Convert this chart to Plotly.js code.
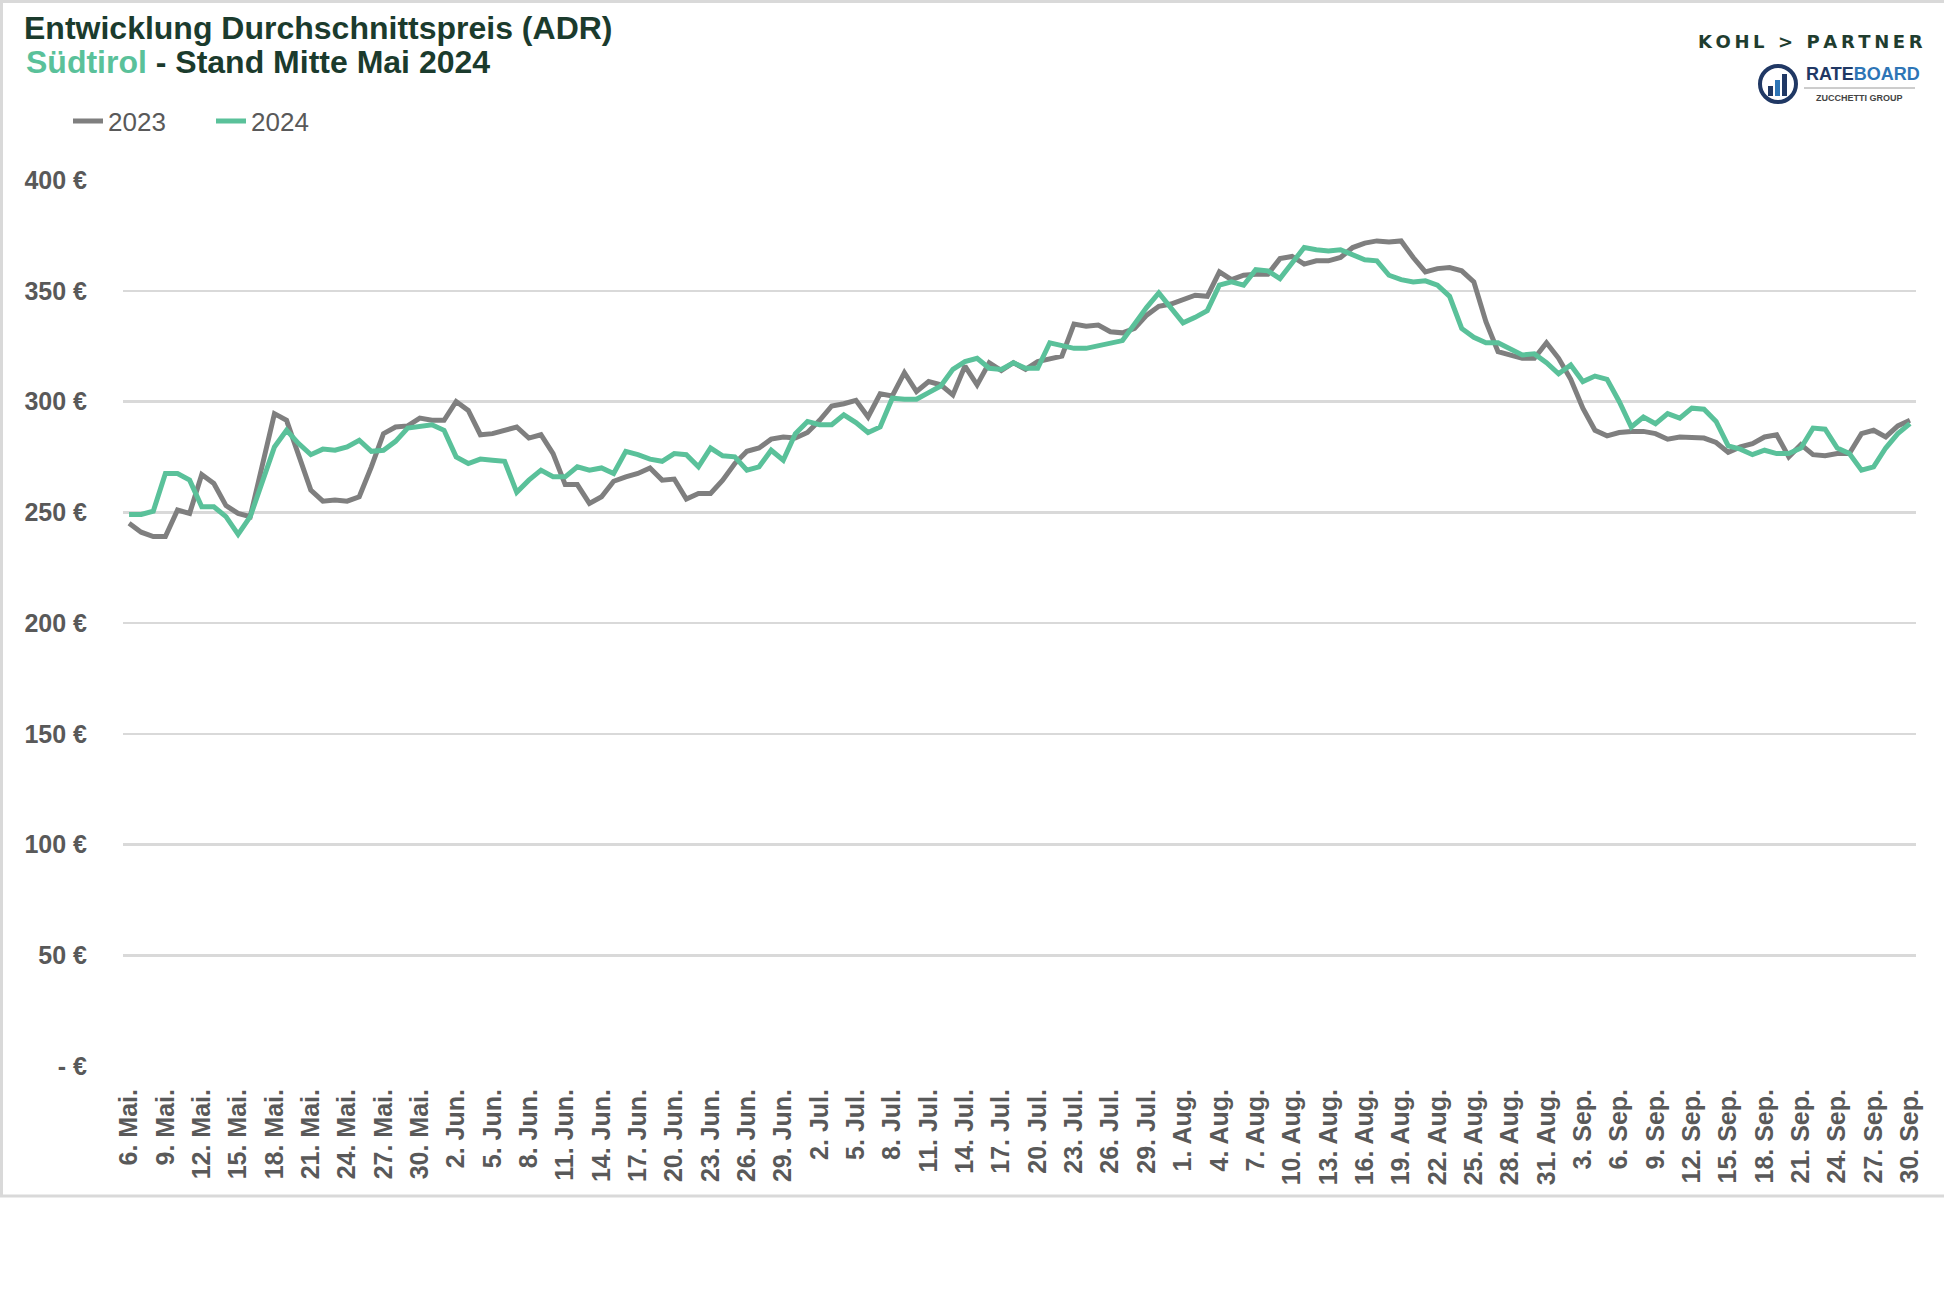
<!DOCTYPE html>
<html>
<head>
<meta charset="utf-8">
<script src="https://cdn.plot.ly/plotly-3.0.1.min.js"></script>
<style>
  html, body { margin: 0; padding: 0; background: #ffffff; }
  #chart { width: 1944px; height: 1296px; }
</style>
</head>
<body>
<div id="chart"></div>
<script>
// ---- Data ----
// Month blocks for daily categories (6. Mai .. 30. Sep)
const monthNames = ["Mai.", "Jun.", "Jul.", "Aug.", "Sep."];
const monthFirstDay = [6, 1, 1, 1, 1];
const monthLastDay = [31, 30, 31, 31, 30];

const categories = [];
for (let m = 0; m < monthNames.length; m++) {
  for (let d = monthFirstDay[m]; d <= monthLastDay[m]; d++) {
    categories.push(d + ". " + monthNames[m]);
  }
}
const tickLabels = categories.filter((c, i) => i % 3 === 0);

const seriesNames = ["2023", "2024"];

const adr2023 = [
  245, 241, 239, 239, 251, 249.5, 267, 263, 253, 249.5,
  248, 272, 294.5, 291.5, 275, 260, 255, 255.5, 255, 257,
  270.5, 285.5, 288.5, 289, 292.5, 291.5, 291.5, 300, 296, 285,
  285.5, 287, 288.5, 283.5, 285, 276.5, 262.5, 262.5, 254, 257,
  264, 266, 267.5, 270, 264.5, 265, 256, 258.5, 258.5, 264.5,
  272, 277.5, 279, 283, 284, 283.5, 286, 291.5, 298, 299,
  300.5, 293, 303.5, 302.5, 313, 304.5, 309, 307.5, 303, 316,
  307.5, 317.5, 314, 317.5, 314.5, 318, 319.5, 320.5, 335, 334,
  334.5, 331.5, 331, 333, 339, 343, 344, 346, 348, 347.5,
  358.5, 355, 357, 357.5, 357.5, 364.5, 365.5, 362, 363.5, 363.5,
  365, 369.5, 371.5, 372.5, 372, 372.5, 365, 358.5, 360, 360.5,
  359, 354, 336, 322.5, 321, 319.5, 319.5, 326.5, 319.5, 310,
  297, 287, 284.5, 286, 286.5, 286.5, 285.5, 283, 284, 283.5,
  283.5, 281.5, 277, 279.5, 281, 284, 285, 275, 280.5, 276,
  275.5, 276.5, 276.5, 285.5, 287, 284, 289, 291.5
];

const adr2024 = [
  249, 249, 250.5, 267.5, 267.5, 264.5, 252.5, 252.5, 248, 240,
  248, 264.5, 279.5, 287, 281, 276, 278.5, 278, 279.5, 282.5,
  277.5, 278, 282, 288, 289, 289.5, 287, 275, 272, 274,
  273.5, 273, 259, 264.5, 269, 266, 266, 270.5, 269, 270,
  267.5, 277.5, 276, 274, 273, 276.5, 276, 270.5, 279, 275.5,
  275, 269, 270.5, 278, 273.5, 285.5, 291, 289.5, 289.5, 294,
  290.5, 286, 288.5, 301.5, 301, 301, 304, 307, 314.5, 318,
  319.5, 315, 314.5, 317.5, 315, 315, 326.5, 325, 324, 324,
  325, 326.5, 327.5, 335, 342.5, 349, 342, 335.5, 338, 341,
  352.5, 354, 352.5, 359.5, 359, 355.5, 362.5, 369.5, 368.5, 368,
  368.5, 366.5, 364, 363.5, 357, 355, 354, 354.5, 352.5, 347.5,
  333, 329, 326.5, 326.5, 324, 321, 321.5, 317.5, 312.5, 316.5,
  309, 311.5, 310, 300, 288.5, 293, 290, 294.5, 292.5, 297,
  296.5, 291, 280, 278.5, 276, 278, 276.5, 276.5, 279, 288,
  287.5, 279, 276.5, 269, 270.5, 279, 285.5, 290
];

const yTickVals = [0, 50, 100, 150, 200, 250, 300, 350, 400];
const yTickText = ["- €", "50 €", "100 €", "150 €", "200 €", "250 €", "300 €", "350 €", "400 €"];

// ---- Layout helpers (pixel -> paper) ----
const W = 1944, H = 1296;
const mL = 123, mR = 28, mT = 180, mB = 230;
const pw = W - mL - mR, ph = H - mT - mB;
const px = x => (x - mL) / pw;
const py = y => (H - mB - y) / ph;

const gray = "#7f7f7f";
const green = "#5ac19a";
const dark = "#1b3b2d";
const labelGray = "#595959";

const traces = [
  {
    x: categories, y: adr2023, name: seriesNames[0], type: "scatter", mode: "lines",
    line: { color: gray, width: 5 }, hoverinfo: "x+y+name"
  },
  {
    x: categories, y: adr2024, name: seriesNames[1], type: "scatter", mode: "lines",
    line: { color: green, width: 5 }, hoverinfo: "x+y+name"
  }
];

const layout = {
  width: W, height: H,
  margin: { l: mL, r: mR, t: mT, b: mB, pad: 0 },
  paper_bgcolor: "#ffffff",
  plot_bgcolor: "#ffffff",
  font: { family: "Liberation Sans, Arial, sans-serif", color: labelGray },
  title: {
    text: "<b>Entwicklung Durchschnittspreis (ADR)</b>",
    font: { family: "Liberation Sans, Arial, sans-serif", size: 32, color: dark },
    xref: "container", x: 24 / W, xanchor: "left",
    yref: "container", y: 1 - 28 / H, yanchor: "middle"
  },
  showlegend: true,
  legend: {
    orientation: "h",
    x: px(68), xanchor: "left",
    y: py(121), yanchor: "middle",
    font: { size: 26, color: labelGray, family: "Liberation Sans, Arial, sans-serif" },
    bgcolor: "rgba(0,0,0,0)",
    entrywidth: 98, entrywidthmode: "pixels",
    traceorder: "normal"
  },
  xaxis: {
    type: "category",
    range: [-0.5, categories.length - 0.5],
    tickmode: "array",
    tickvals: tickLabels,
    ticktext: tickLabels,
    tickangle: -90,
    ticks: "outside", ticklen: 12, tickcolor: "rgba(0,0,0,0)",
    tickfont: { size: 25, color: labelGray, family: "Liberation Sans, Arial, sans-serif", weight: "bold" },
    showgrid: false, zeroline: false, showline: false,
    fixedrange: true
  },
  yaxis: {
    range: [0, 400],
    tickmode: "array",
    tickvals: yTickVals,
    ticktext: yTickText,
    ticks: "outside", ticklen: 30, tickcolor: "rgba(0,0,0,0)",
    tickfont: { size: 25, color: labelGray, family: "Liberation Sans, Arial, sans-serif", weight: "bold" },
    showgrid: true, gridcolor: "#d9d9d9", gridwidth: 2.5,
    zeroline: false, showline: false,
    fixedrange: true
  },
  shapes: [
    // outer chart frame
    {
      type: "rect", xref: "paper", yref: "paper",
      x0: px(1.5), x1: px(1950), y0: py(1.5), y1: py(1196),
      line: { color: "#d9d9d9", width: 3 }, fillcolor: "rgba(0,0,0,0)", layer: "below"
    },
    // RATEBOARD icon circle
    {
      type: "circle", xref: "paper", yref: "paper",
      xsizemode: "pixel", ysizemode: "pixel",
      xanchor: px(1778), yanchor: py(84),
      x0: -18, x1: 18, y0: -18, y1: 18,
      line: { color: "#203864", width: 4 }, fillcolor: "rgba(0,0,0,0)"
    },
    // icon bars
    { type: "rect", xref: "paper", yref: "paper", xsizemode: "pixel", ysizemode: "pixel",
      xanchor: px(1778), yanchor: py(96), x0: -10, x1: -5, y0: 0, y1: 10,
      line: { width: 0 }, fillcolor: "#203864" },
    { type: "rect", xref: "paper", yref: "paper", xsizemode: "pixel", ysizemode: "pixel",
      xanchor: px(1778), yanchor: py(96), x0: -3, x1: 2, y0: 0, y1: 16,
      line: { width: 0 }, fillcolor: "#2e75b6" },
    { type: "rect", xref: "paper", yref: "paper", xsizemode: "pixel", ysizemode: "pixel",
      xanchor: px(1778), yanchor: py(96), x0: 4, x1: 9, y0: 0, y1: 22,
      line: { width: 0 }, fillcolor: "#203864" },
    // thin line under RATEBOARD
    {
      type: "line", xref: "paper", yref: "paper",
      x0: px(1804), x1: px(1915), y0: py(88), y1: py(88),
      line: { color: "#9a9a9a", width: 1 }
    }
  ],
  annotations: [
    {
      text: "<b><span style='color:" + green + "'>Südtirol</span> - Stand Mitte Mai 2024</b>",
      xref: "paper", yref: "paper", x: px(24), y: py(62),
      xanchor: "left", yanchor: "middle", showarrow: false,
      font: { family: "Liberation Sans, Arial, sans-serif", size: 32, color: dark }
    },
    {
      text: "<b>K\u2009O\u2009H\u2009L\u2009 \u2009>\u2009 \u2009P\u2009A\u2009R\u2009T\u2009N\u2009E\u2009R</b>",
      xref: "paper", yref: "paper", x: px(1810), y: py(41),
      xanchor: "center", yanchor: "middle", showarrow: false,
      font: { family: "DejaVu Sans, sans-serif", size: 18, color: "#1f3d2f" }
    },
    {
      text: "<b><span style='color:#203864'>RATE</span><span style='color:#2e75b6'>BOARD</span></b>",
      xref: "paper", yref: "paper", x: px(1804), y: py(74),
      xanchor: "left", yanchor: "middle", showarrow: false,
      font: { family: "Liberation Sans, Arial, sans-serif", size: 18 }
    },
    {
      text: "<b>ZUCCHETTI GROUP</b>",
      xref: "paper", yref: "paper", x: px(1859), y: py(98),
      xanchor: "center", yanchor: "middle", showarrow: false,
      font: { family: "Liberation Sans, Arial, sans-serif", size: 9, color: "#444444" }
    }
  ]
};

Plotly.newPlot("chart", traces, layout, { displayModeBar: false, staticPlot: true });
</script>
</body>
</html>
